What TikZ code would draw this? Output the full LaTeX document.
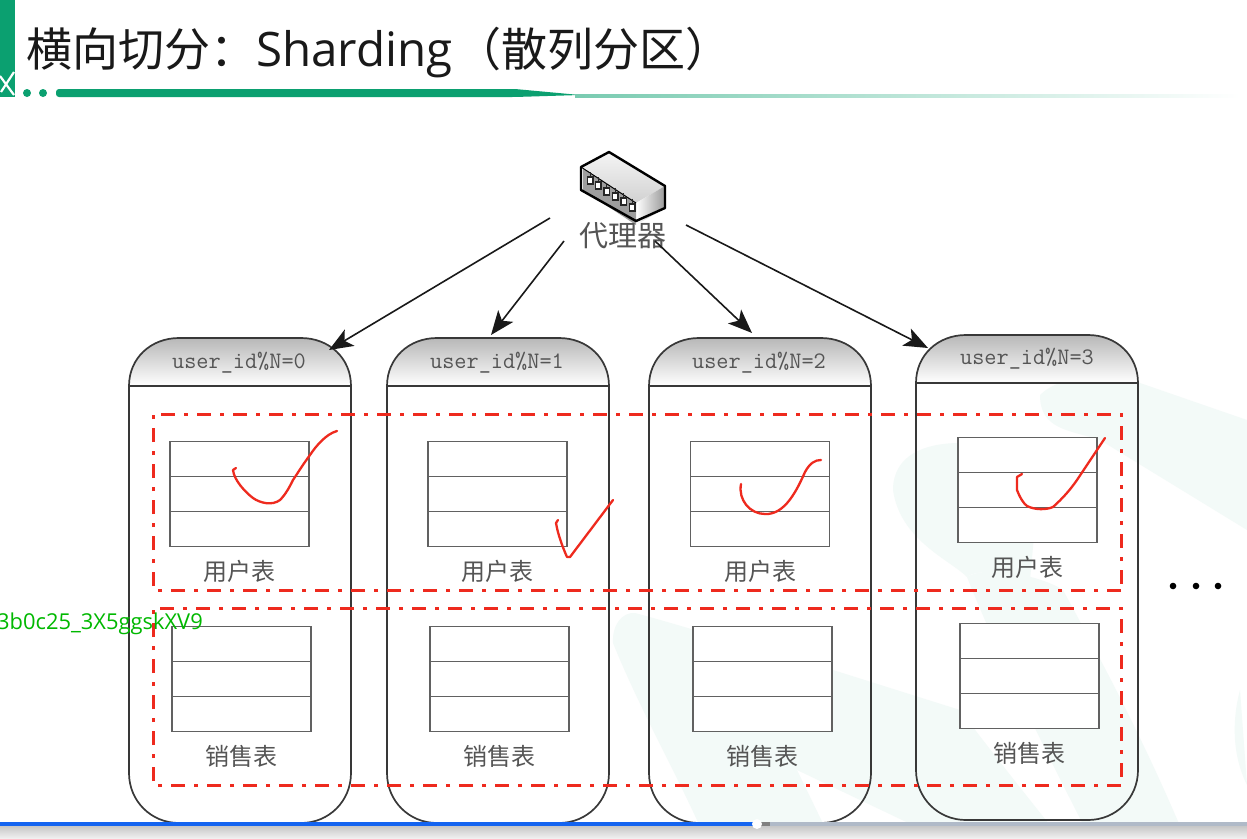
\documentclass[tikz,border=0pt]{standalone}
\usepackage{fontspec}
\setmainfont{Noto Sans CJK SC}
\newfontfamily\sansf{Open Sans}
\setmonofont{Latin Modern Mono}
\usetikzlibrary{arrows.meta,calc}
\definecolor{brand}{HTML}{0BA070}
\definecolor{pale}{HTML}{F3FAF8}
\definecolor{redd}{HTML}{EE2A1E}
\definecolor{inkk}{HTML}{555555}
\definecolor{progress}{HTML}{1464F0}
\definecolor{trackc}{HTML}{B0BAC8}
\tikzset{
  server/.style={draw=black!78,line width=1.7pt},
  tblbox/.style={draw=black!62,line width=1.4pt,fill=white,minimum width=139pt,minimum height=105pt,inner sep=0pt,outer sep=0pt},
  rowline/.style={draw=black!62,line width=1.4pt},
  caption/.style={font=\fontsize{24}{24}\selectfont,text=inkk,inner sep=0pt},
  headtxt/.style={font=\ttfamily\fontsize{23.6}{23.6}\selectfont,text=inkk,inner sep=0pt},
  zone/.style={draw=redd,line width=3pt,dash pattern=on 14pt off 9pt on 4pt off 9pt},
  flow/.style={draw=black!90,line width=1.6pt,-{Stealth[length=24pt,width=19pt,inset=6pt]}},
  tick/.style={draw=redd,line width=2.3pt,line cap=round,line join=round},
}
\newcommand{\serverbox}[3]{% name, x, y(top)
  \shade[top color=black!28,bottom color=white,draw=none]
     (#2,#3+48) .. controls (#2,#3+20) and (#2+22,#3) .. (#2+50,#3) -- (#2+172,#3) .. controls (#2+200,#3) and (#2+222,#3+20) .. (#2+222,#3+48) -- cycle;
  \draw[server] (#2,#3+48) .. controls (#2,#3+20) and (#2+22,#3) .. (#2+50,#3) -- (#2+172,#3) .. controls (#2+200,#3) and (#2+222,#3+20) .. (#2+222,#3+48)
     -- (#2+222,#3+435) .. controls (#2+222,#3+463) and (#2+200,#3+485) .. (#2+172,#3+485) -- (#2+50,#3+485) .. controls (#2+22,#3+485) and (#2,#3+463) .. (#2,#3+435) -- cycle;
  \draw[server] (#2,#3+48) -- (#2+222,#3+48);
}
\newcommand{\tbl}[4]{% name, x center, y center, caption
  \node[tblbox] (#1) at (#2,#3) {};
  \draw[rowline] ($(#1.north west)!1/3!(#1.south west)$) -- ($(#1.north east)!1/3!(#1.south east)$);
  \draw[rowline] ($(#1.north west)!2/3!(#1.south west)$) -- ($(#1.north east)!2/3!(#1.south east)$);
  \node[caption] (#1cap) at (#2,#3+77) {#4};
}
\begin{document}
\begin{tikzpicture}[x=1pt,y=-1pt]
\useasboundingbox (0,0) rectangle (1247,838);
\fill[white] (0,0) rectangle (1247,838);
% watermark
\fill[pale] (1040,395) .. controls (1060,375) and (1110,370) .. (1140,383) -- (1247,420) -- (1247,530) -- (1100,440) .. controls (1070,430) and (1040,430) .. (1040,395) -- cycle;
\fill[pale] (893,490) .. controls (893,455) and (925,443) .. (960,443) -- (1040,470) -- (1030,580) .. controls (1000,570) and (975,570) .. (967,577) .. controls (950,560) and (900,540) .. (893,490) -- cycle;
\fill[pale] (967,577) .. controls (985,565) and (1040,575) .. (1063,590) .. controls (1090,640) and (1140,730) .. (1185,838) -- (1090,838) .. controls (1050,760) and (1000,660) .. (967,577) -- cycle;
\fill[pale] (1240,690) .. controls (1232,720) and (1232,755) .. (1247,785) -- cycle;
\fill[pale] (613,643) .. controls (612,625) and (622,612) .. (635,613) .. controls (680,625) and (760,650) .. (833,670) -- (960,710) .. controls (990,750) and (1030,800) .. (1060,838) -- (940,838) -- (797,770) -- (830,838) -- (705,838) .. controls (680,780) and (640,710) .. (613,643) -- cycle;
% header
\fill[brand] (0,0) rectangle (15,97);
\draw[white,line width=2.2pt] (0,76) -- (14,95) (14,72) -- (1,92);
\fill[brand] (27,93) circle (4pt) (43,93) circle (4pt);
\fill[brand,rounded corners=3pt] (56,89) -- (515,89) -- (580,95) -- (515,97) -- (56,97) -- cycle;
\shade[left color=brand!55,right color=white] (575,94) rectangle (1240,97);
\node[font=\fontsize{46}{46}\selectfont,anchor=west,inner sep=0pt,text=black!90] (title) at (26,53) {横向切分：{\sansf\fontsize{47.5}{47.5}\selectfont Sharding}\kern3pt（散列分区）};
% servers
\serverbox{s0}{129}{338}
\serverbox{s1}{387}{338}
\serverbox{s2}{649}{338}
\serverbox{s3}{916}{335}
\node[headtxt] (h0) at (239,363) {user\_id\%N=0};
\node[headtxt] (h1) at (497,363) {user\_id\%N=1};
\node[headtxt] (h2) at (759,363) {user\_id\%N=2};
\node[headtxt] (h3) at (1027,359) {user\_id\%N=3};
\coordinate (a0) at (329,350);
\coordinate (a1) at (491,335);
\coordinate (a2) at (752,333);
\coordinate (a3) at (928,348);
% tables
\tbl{u0}{239.5}{494}{用户表}
\tbl{u1}{497.5}{494}{用户表}
\tbl{u2}{760}{494}{用户表}
\tbl{u3}{1027.5}{490}{用户表}
\tbl{v0}{241.5}{679}{销售表}
\tbl{v1}{499.5}{679}{销售表}
\tbl{v2}{762.5}{679}{销售表}
\tbl{v3}{1029.5}{676}{销售表}
% zones
\draw[zone] (1121,590) -- (153,590) -- (153,414) -- (1121,414) -- cycle;
\draw[zone] (1121,785) -- (153,785) -- (153,608) -- (1121,608) -- cycle;
% proxy
\begin{scope}
\shade[top color=black!4,bottom color=black!18] (583,167) -- (609,152) -- (665,186) -- (636,203) -- cycle;
\shade[left color=white,right color=black!40] (636,203) -- (665,186) -- (665,208) -- (636,225) -- cycle;
\fill[black!38] (583,168) -- (636,203) -- (636,225) -- (583,190) -- cycle;
\draw[black,line width=2.4pt,line join=round] (581,167) -- (609,152) -- (665,186) -- (665,208) -- (636,221) -- (581,190) -- cycle;
\draw[black,line width=1pt] (581,167) -- (636,203);
\foreach \i in {0,...,5}{
  \draw[black!85,line width=.9pt] (590+\i*8.4,172+\i*5.3) -- ++(0,5);
  \fill[black!85] (586.5+\i*8.4,176+\i*5.3) rectangle ++(7,9);
  \fill[white] (588+\i*8.4,178+\i*5.3) rectangle ++(4,5);
}
\end{scope}
\node[caption,font=\fontsize{29}{29}\selectfont] (proxy) at (623,236) {代理器};
% arrows
\coordinate (p0) at (550,218);
\coordinate (p1) at (564,241);
\coordinate (p2) at (655,241);
\coordinate (p3) at (686,225);
\draw[flow] (p0) -- (a0);
\draw[flow] (p1) -- (a1);
\draw[flow] (p2) -- (a2);
\draw[flow] (p3) -- (a3);
% ticks
\draw[tick] (236,468) -- (233,470) .. controls (234,480) and (245,492) .. (253,498) .. controls (260,503) and (272,506) .. (280,500) .. controls (286,494) and (290,486) .. (293,480) .. controls (299,471) and (304,463) .. (310,455) .. controls (316,446) and (326,434) .. (337,431);
\draw[tick] (558,520) -- (556,523) .. controls (558,535) and (563,548) .. (567,557) -- (570,557) -- (613,500);
\draw[tick] (741,484) .. controls (738,500) and (750,514) .. (765,514) .. controls (785,515) and (797,490) .. (805,472) .. controls (810,463) and (815,460) .. (821,460);
\draw[tick] (1022,474) -- (1017,477) -- (1017,490) .. controls (1020,498) and (1024,504) .. (1027,506) .. controls (1035,510) and (1046,510) .. (1053,507) .. controls (1063,498) and (1070,490) .. (1077,480) -- (1105,438);
% dots
\fill[black] (1173,586) circle (3.3pt) (1196,586) circle (3.3pt) (1218,586) circle (3.3pt);
% overlay text
\node[font=\sansf\fontsize{21.9}{21.9}\selectfont,text=green!72!black,anchor=west,inner sep=0pt] (wm) at (-3,624) {3b0c25\_3X5ggskXV9};
% player bar
\shade[top color=black!22,bottom color=black!6] (0,826) rectangle (1247,838);
\fill[trackc] (755,822) rectangle (1247,826);
\fill[black!50] (755,822) rectangle (770,826);
\fill[progress] (0,822) rectangle (755,826);
\fill[white] (757,824) circle (5pt);
\end{tikzpicture}
\end{document}
